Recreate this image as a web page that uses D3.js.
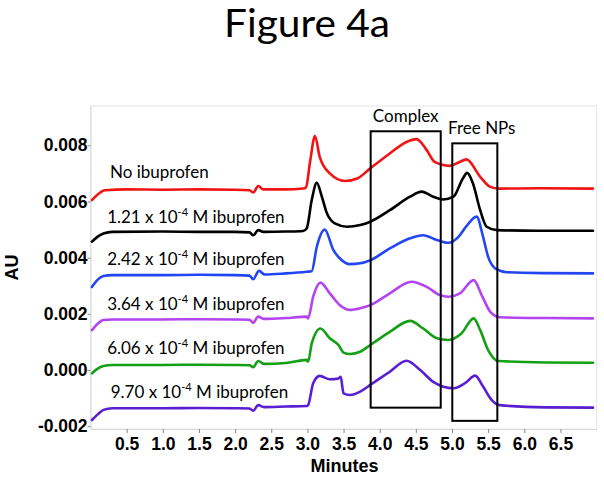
<!DOCTYPE html>
<html>
<head>
<meta charset="utf-8">
<script src="https://cdn.jsdelivr.net/npm/d3@7"></script>
<style>
  html, body { margin: 0; padding: 0; background: #fff; }
  svg { display: block; }
</style>
</head>
<body>
<svg id="chart" width="604" height="478"></svg>
<script>
// ---------- DATA ----------
const title = "Figure 4a";
const xLabel = "Minutes";
const yLabel = "AU";
const xTicks = [0.5, 1.0, 1.5, 2.0, 2.5, 3.0, 3.5, 4.0, 4.5, 5.0, 5.5, 6.0, 6.5];
const yTicks = [-0.002, 0.000, 0.002, 0.004, 0.006, 0.008];

const seriesNames = ["No ibuprofen", "1.21", "2.42", "3.64", "6.06", "9.70"];
const seriesColors = ["#f01414", "#000000", "#2346f5", "#b443f0", "#14a014", "#5a1ed2"];

// [minutes, AU]
const noIbuprofen = [[0.02,0.00605],[0.1,0.00625],[0.2,0.00640],[0.5,0.00643],[1.0,0.00642],[1.5,0.00643],[2.0,0.00642],[2.2,0.00640],[2.25,0.00632],[2.32,0.00655],[2.39,0.00643],[2.7,0.00643],[2.94,0.00646],[2.98,0.00650],[3.04,0.00747],[3.105,0.00833],[3.17,0.00759],[3.31,0.00700],[3.52,0.00673],[3.69,0.00682],[3.87,0.00718],[4.14,0.00771],[4.37,0.00812],[4.51,0.00822],[4.65,0.00783],[4.76,0.00741],[4.97,0.00727],[5.10,0.00740],[5.20,0.00750],[5.39,0.00688],[5.53,0.00652],[5.65,0.00646],[6.2,0.00647],[6.95,0.00646]];
const ibu121 = [[0.02,0.00457],[0.1,0.00475],[0.18,0.00486],[0.3,0.00492],[1.0,0.00493],[1.5,0.00492],[2.0,0.00492],[2.2,0.00490],[2.25,0.00480],[2.32,0.00498],[2.39,0.00492],[2.7,0.00493],[2.94,0.00495],[2.99,0.00504],[3.06,0.00605],[3.13,0.00667],[3.20,0.00617],[3.27,0.00558],[3.38,0.00522],[3.55,0.00510],[3.73,0.00516],[3.87,0.00528],[4.14,0.00569],[4.42,0.00617],[4.58,0.00635],[4.74,0.00617],[4.88,0.00607],[5.02,0.00617],[5.15,0.00682],[5.21,0.00702],[5.29,0.00664],[5.39,0.00569],[5.48,0.00510],[5.62,0.00498],[6.2,0.00496],[6.95,0.00496]];
const ibu242 = [[0.02,0.00296],[0.1,0.00322],[0.18,0.00335],[0.3,0.00338],[1.0,0.00338],[1.5,0.00339],[2.0,0.00338],[2.2,0.00336],[2.25,0.00323],[2.33,0.00353],[2.41,0.00340],[2.7,0.00344],[2.99,0.00350],[3.06,0.00352],[3.13,0.00439],[3.24,0.00500],[3.36,0.00427],[3.45,0.00397],[3.59,0.00377],[3.73,0.00380],[3.87,0.00391],[4.14,0.00433],[4.42,0.00469],[4.60,0.00480],[4.79,0.00463],[4.95,0.00453],[5.09,0.00474],[5.20,0.00512],[5.34,0.00546],[5.43,0.00474],[5.50,0.00403],[5.62,0.00358],[5.76,0.00348],[6.3,0.00345],[6.95,0.00344]];
const ibu364 = [[0.02,0.00142],[0.1,0.00165],[0.18,0.00178],[0.3,0.00180],[1.0,0.00180],[1.5,0.00181],[2.0,0.00180],[2.2,0.00179],[2.25,0.00168],[2.32,0.00190],[2.40,0.00182],[2.7,0.00185],[2.99,0.00190],[3.01,0.00184],[3.08,0.00261],[3.18,0.00311],[3.31,0.00273],[3.45,0.00231],[3.59,0.00214],[3.73,0.00220],[3.87,0.00231],[4.14,0.00273],[4.44,0.00314],[4.65,0.00296],[4.83,0.00267],[4.95,0.00261],[5.11,0.00273],[5.30,0.00320],[5.41,0.00267],[5.53,0.00207],[5.66,0.00188],[6.3,0.00185],[6.95,0.00184]];
const ibu606 = [[0.02,-0.00012],[0.1,0.00005],[0.18,0.00014],[0.3,0.00018],[1.0,0.00018],[1.5,0.00019],[2.0,0.00018],[2.2,0.00017],[2.25,0.00010],[2.32,0.00032],[2.40,0.00022],[2.7,0.00025],[2.99,0.00036],[3.01,0.00030],[3.06,0.00095],[3.18,0.00148],[3.31,0.00113],[3.43,0.00089],[3.50,0.00062],[3.59,0.00057],[3.73,0.00065],[3.87,0.00089],[4.14,0.00136],[4.42,0.00175],[4.60,0.00148],[4.79,0.00113],[4.95,0.00107],[5.13,0.00130],[5.30,0.00184],[5.39,0.00142],[5.50,0.00071],[5.64,0.00032],[6.3,0.00027],[6.95,0.00026]];
const ibu970 = [[0.02,-0.00178],[0.1,-0.00158],[0.18,-0.00142],[0.3,-0.00136],[1.0,-0.00136],[1.5,-0.00135],[2.0,-0.00136],[2.2,-0.00137],[2.25,-0.00145],[2.32,-0.00125],[2.40,-0.00132],[2.7,-0.00130],[2.99,-0.00128],[3.01,-0.00125],[3.08,-0.00047],[3.17,-0.00021],[3.31,-0.00033],[3.43,-0.00030],[3.46,-0.00024],[3.50,-0.00083],[3.59,-0.00089],[3.73,-0.00077],[3.87,-0.00053],[4.14,-0.00006],[4.37,0.00033],[4.56,0.00000],[4.74,-0.00042],[5.02,-0.00065],[5.18,-0.00047],[5.32,-0.00020],[5.43,-0.00059],[5.55,-0.00107],[5.66,-0.00125],[6.3,-0.00133],[6.95,-0.00134]];

// labels: [prefix, superscript, suffix]
const labelParts = [["No ibuprofen","",""],["1.21 x 10","-4"," M ibuprofen"],["2.42 x 10","-4"," M ibuprofen"],["3.64 x 10","-4"," M ibuprofen"],["6.06 x 10","-4"," M ibuprofen"],["9.70 x 10","-4"," M ibuprofen"]];
// label anchor in data units [minutes, AU]
const labelPos = [[0.27,0.00683],[0.23,0.00525],[0.23,0.00373],[0.23,0.00213],[0.23,0.00057],[0.28,-0.00101]];

// boxes: [x0, x1, yTop, yBottom] in data units
const boxNames = ["Complex", "Free NPs"];
const boxes = [[3.875, 4.844, 0.00850, -0.00134],[5.004, 5.627, 0.00807, -0.00181]];

const allSeries = [noIbuprofen, ibu121, ibu242, ibu364, ibu606, ibu970];

// ---------- DRAW ----------
const svg = d3.select("#chart");
const plot = {left: 90.5, right: 596.6, top: 106, bottom: 429};

const x = d3.scaleLinear().domain([0, 7]).range([plot.left, plot.right]);
const y = d3.scaleLinear().domain([-0.0021, 0.0094]).range([plot.bottom, plot.top]);

// title
svg.append("text")
  .attr("x", 307).attr("y", 37)
  .attr("text-anchor", "middle")
  .attr("textLength", 166)
  .attr("lengthAdjust", "spacingAndGlyphs")
  .style("font-family", "Lato, 'Open Sans', sans-serif")
  .style("font-size", "38px")
  .attr("fill", "#000")
  .text(title);

// frame (light)
svg.append("rect")
  .attr("x", plot.left).attr("y", plot.top)
  .attr("width", plot.right - plot.left).attr("height", plot.bottom - plot.top)
  .attr("fill", "none").attr("stroke", "#e6e6e6").attr("stroke-width", 1);

// axes
const xAxis = d3.axisBottom(x).tickValues(xTicks).tickFormat(d3.format(".1f")).tickSize(4).tickSizeOuter(0);
const gx = svg.append("g").attr("transform", `translate(0,${plot.bottom})`).call(xAxis);
gx.select(".domain").attr("stroke", "#d9d9d9");
gx.selectAll(".tick line").attr("stroke", "#888");
gx.selectAll(".tick text")
  .attr("dy", "0")
  .attr("y", 21)
  .style("font-family", "'Liberation Sans', Arial, sans-serif")
  .style("font-weight", "bold")
  .style("font-size", "17.5px")
  .attr("fill", "#000");

const yAxis = d3.axisLeft(y).tickValues(yTicks).tickFormat(d3.format(".3f")).tickSize(3).tickSizeOuter(0);
const gy = svg.append("g").attr("transform", `translate(${plot.left},0)`).call(yAxis);
gy.select(".domain").attr("stroke", "#d9d9d9");
gy.selectAll(".tick line").attr("stroke", "#888");
gy.selectAll(".tick text")
  .attr("x", -3)
  .style("font-family", "'Liberation Sans', Arial, sans-serif")
  .style("font-weight", "bold")
  .style("font-size", "17.5px")
  .attr("fill", "#000")
  .text(d => d < 0 ? "-" + d3.format(".3f")(-d) : d3.format(".3f")(d));

// axis titles
svg.append("text")
  .attr("x", (plot.left + plot.right) / 2 + 1).attr("y", 472)
  .attr("text-anchor", "middle")
  .style("font-family", "'Liberation Sans', Arial, sans-serif")
  .style("font-weight", "bold").style("font-size", "18px")
  .text(xLabel);
svg.append("text")
  .attr("transform", `translate(18,${(plot.top + plot.bottom) / 2}) rotate(-90)`)
  .attr("text-anchor", "middle")
  .style("font-family", "'Liberation Sans', Arial, sans-serif")
  .style("font-weight", "bold").style("font-size", "18px")
  .text(yLabel);

// lines
const line = d3.line().x(d => x(d[0])).y(d => y(d[1])).curve(d3.curveMonotoneX);
allSeries.forEach((s, i) => {
  svg.append("path")
    .datum(s)
    .attr("d", line)
    .attr("fill", "none")
    .attr("stroke", seriesColors[i])
    .attr("stroke-width", 2.6)
    .attr("stroke-linejoin", "round")
    .attr("stroke-linecap", "round");
});

// series labels
labelParts.forEach((p, i) => {
  const t = svg.append("text")
    .attr("x", x(labelPos[i][0])).attr("y", y(labelPos[i][1]))
    .style("font-family", "Lato, 'Open Sans', sans-serif")
    .style("font-size", "17px")
    .attr("fill", "#000");
  t.append("tspan").text(p[0]);
  if (p[1]) {
    t.append("tspan").attr("dy", "-7").style("font-size", "11px").text(p[1]);
    t.append("tspan").attr("dy", "7").text(p[2]);
  }
});

// boxes
boxes.forEach((b, i) => {
  svg.append("rect")
    .attr("x", x(b[0])).attr("y", y(b[2]))
    .attr("width", x(b[1]) - x(b[0])).attr("height", y(b[3]) - y(b[2]))
    .attr("fill", "none").attr("stroke", "#000").attr("stroke-width", 2);
  svg.append("text")
    .attr("x", (x(b[0]) + x(b[1])) / 2 + (i === 1 ? 7 : 0))
    .attr("y", y(b[2]) - 9)
    .attr("text-anchor", "middle")
    .style("font-family", "Lato, 'Open Sans', sans-serif")
    .style("font-size", "17px")
    .attr("fill", "#000")
    .text(boxNames[i]);
});
</script>
</body>
</html>
